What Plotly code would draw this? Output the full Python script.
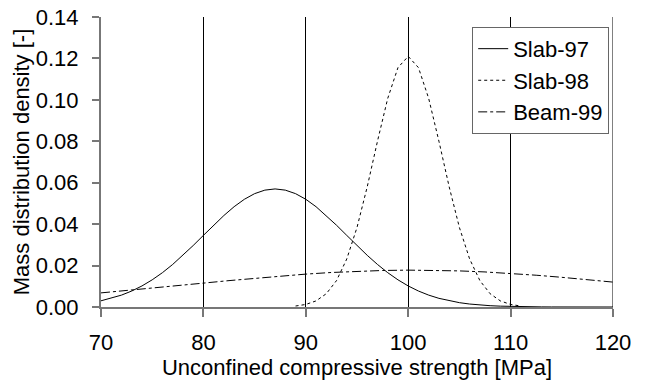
import plotly.graph_objects as go

# Slab-97 (read at 1 MPa steps)
x_slab97 = list(range(70, 121))
y_slab97 = [0.00299, 0.00418, 0.00574, 0.00771, 0.01016, 0.01312, 0.01658, 0.02054, 0.02494, 0.02967,
            0.03457, 0.03948, 0.04416, 0.04842, 0.05200, 0.05472, 0.05642, 0.05700, 0.05642, 0.05472,
            0.05200, 0.04842, 0.04416, 0.03948, 0.03457, 0.02967, 0.02494, 0.02054, 0.01658, 0.01312,
            0.01016, 0.00771, 0.00574, 0.00418, 0.00299, 0.00209, 0.00143, 0.00096, 0.00063, 0.00041,
            0.00026, 0.00016, 0.00010, 0.00006, 0.00003, 0.00002, 0.00001, 0.0, 0.0, 0.0, 0.0]

# Slab-98
x_slab98 = list(range(89, 112))
y_slab98 = [0.00047, 0.00123, 0.00294, 0.00641, 0.01275, 0.02317, 0.03839, 0.05804, 0.08004, 0.10070,
            0.11557, 0.12100, 0.11557, 0.10070, 0.08004, 0.05804, 0.03839, 0.02317, 0.01275, 0.00641,
            0.00294, 0.00123, 0.00047]

# Beam-99
x_beam99 = [70, 72.5, 75, 77.5, 80, 82.5, 85, 87.5, 90, 92.5, 95, 97.5, 100, 102.5, 105, 107.5,
            110, 112.5, 115, 117.5, 120]
y_beam99 = [0.00681, 0.00792, 0.00909, 0.01031, 0.01153, 0.01274, 0.01389, 0.01495, 0.01588, 0.01666,
            0.01725, 0.01763, 0.01780, 0.01773, 0.01743, 0.01692, 0.01622, 0.01534, 0.01433, 0.01321,
            0.01202]

x_ticks = [70, 80, 90, 100, 110, 120]
y_ticks = [0.00, 0.02, 0.04, 0.06, 0.08, 0.10, 0.12, 0.14]

FONT = "Arial"
FS = 22

fig = go.Figure()
fig.add_trace(go.Scatter(x=x_slab97, y=y_slab97, mode="lines", name="Slab-97",
                         line=dict(color="black", width=1, dash="solid")))
fig.add_trace(go.Scatter(x=x_slab98, y=y_slab98, mode="lines", name="Slab-98",
                         line=dict(color="black", width=1, dash="dot")))
fig.add_trace(go.Scatter(x=x_beam99, y=y_beam99, mode="lines", name="Beam-99",
                         line=dict(color="black", width=1, dash="dashdot")))

fig.update_layout(
    width=645, height=390,
    margin=dict(l=101, r=32, t=17, b=83, autoexpand=False),
    paper_bgcolor="white", plot_bgcolor="white",
    font=dict(family=FONT, size=FS, color="black"),
    showlegend=True,
    legend=dict(x=0.725, y=0.966, xanchor="left", yanchor="top",
                bordercolor="#666666", borderwidth=1, bgcolor="white",
                font=dict(family=FONT, size=FS), tracegroupgap=0),
    shapes=[dict(type="line", xref="x", yref="paper", x0=x_ticks[-1], x1=x_ticks[-1],
                 y0=0, y1=1, line=dict(color="black", width=1), layer="below")],
)
fig.update_xaxes(
    range=[70, 120], tickvals=x_ticks, ticktext=[str(v) for v in x_ticks],
    showgrid=True, gridcolor="black", gridwidth=1,
    showline=True, linecolor="#777777", linewidth=2,
    ticks="outside", ticklen=8, tickcolor="#777777", tickwidth=2,
    zeroline=False, tickfont=dict(family=FONT, size=FS), ticklabelstandoff=7,
    automargin=False,
    title=dict(text="Unconfined compressive strength [MPa]", standoff=0,
               font=dict(family=FONT, size=FS)),
)
fig.update_yaxes(
    range=[0, 0.14], tickvals=y_ticks, ticktext=[f"{v:.2f}" for v in y_ticks],
    showgrid=False,
    showline=True, linecolor="#777777", linewidth=2,
    ticks="outside", ticklen=7, tickcolor="#777777", tickwidth=2,
    zeroline=False, tickfont=dict(family=FONT, size=FS), ticklabelstandoff=9,
    automargin=False,
    title=dict(text="Mass distribution density [-]", standoff=0,
               font=dict(family=FONT, size=FS)),
)

fig.write_html("out.html")
